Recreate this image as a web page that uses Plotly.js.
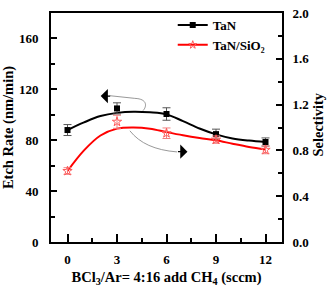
<!DOCTYPE html>
<html>
<head>
<meta charset="utf-8">
<script src="https://cdn.plot.ly/plotly-3.0.1.min.js"></script>
<style>
  html, body { margin: 0; padding: 0; background: #fff; }
  #chart { width: 336px; height: 290px; }
</style>
</head>
<body>
<div id="chart"></div>
<script>
// CH4 flow added to BCl3/Ar = 4:16 (sccm)
const ch4Flow = [0, 3, 6, 9, 12];

// Measured TaN etch rate (nm/min) and its error
const tanRate = [88, 105, 100.6, 84.8, 78.6];
const tanRateErr = [4.3, 4.4, 4.9, 3.9, 3.2];

// Measured TaN/SiO2 selectivity and its error
const selectivity = [0.62, 1.05, 0.95, 0.894, 0.805];
const selectivityErr = [0.029, 0.057, 0.046, 0.032, 0.034];

// Smooth fitted trends
const fitFlow = [0, 1, 2, 3, 4, 5, 6, 7, 8, 9, 10, 11, 12];
const tanRateFit = [88, 94, 99, 101.5, 102.4, 101.9, 100.3, 95, 89.2, 84.6, 81.4, 79.7, 78.6];
const selectivityFit = [0.62, 0.80, 0.93, 0.99, 1.0, 0.99, 0.96, 0.932, 0.908, 0.888, 0.858, 0.83, 0.808];

const xTicks = [0, 3, 6, 9, 12];
const yTicks = [0, 40, 80, 120, 160];
const y2Ticks = [0, 0.4, 0.8, 1.2, 1.6, 2.0];

const serif = 'Liberation Serif, Times New Roman, serif';
const tickFont = { family: serif, size: 13, color: '#000', weight: 'bold' };
const titleFont = { family: serif, size: 14.5, color: '#000', weight: 'bold' };
const legendFont = { family: serif, size: 13, color: '#000', weight: 'bold' };

const traces = [
  {
    x: fitFlow, y: tanRateFit, mode: 'lines', yaxis: 'y',
    line: { color: '#000', width: 2, shape: 'spline', smoothing: 1 },
    showlegend: false, hoverinfo: 'skip'
  },
  {
    x: fitFlow, y: selectivityFit, mode: 'lines', yaxis: 'y2',
    line: { color: '#ff0000', width: 2, shape: 'spline', smoothing: 1 },
    showlegend: false, hoverinfo: 'skip'
  },
  {
    x: ch4Flow, y: tanRate, mode: 'markers', yaxis: 'y',
    marker: { symbol: 'square', size: 6, color: '#000' },
    error_y: { type: 'data', array: tanRateErr, visible: true, color: '#555', thickness: 1, width: 4 },
    showlegend: false
  },
  {
    x: ch4Flow, y: selectivity, mode: 'markers', yaxis: 'y2',
    marker: { symbol: 'star-open', size: 7, color: '#ff5a5a', line: { width: 1, color: '#ff5a5a' } },
    error_y: { type: 'data', array: selectivityErr, visible: true, color: '#f08080', thickness: 1, width: 4 },
    showlegend: false
  },
  // legend keys
  {
    x: [null], y: [null], mode: 'lines+markers', name: 'TaN', yaxis: 'y',
    line: { color: '#000', width: 2 },
    marker: { symbol: 'square', size: 6, color: '#000' }
  },
  {
    x: [null], y: [null], mode: 'lines+markers', name: 'TaN/SiO\u2082', yaxis: 'y2',
    line: { color: '#ff0000', width: 2 },
    marker: { symbol: 'star-open', size: 6, color: '#ff5a5a' }
  }
];

const layout = {
  width: 336, height: 290,
  margin: { l: 51, r: 54, t: 10, b: 48 },
  paper_bgcolor: '#fff', plot_bgcolor: '#fff',
  showlegend: true,
  legend: {
    x: 0.527, xanchor: 'left', y: 1.013, yanchor: 'top',
    bgcolor: 'rgba(0,0,0,0)', font: legendFont,
    tracegroupgap: 0, itemwidth: 30
  },
  xaxis: {
    range: [-1, 13], tickvals: xTicks, ticktext: xTicks.map(String),
    ticks: 'inside', ticklen: 8, tickwidth: 2, tickcolor: '#000',
    minor: { dtick: 1.5, tick0: 0, ticks: 'inside', ticklen: 4, tickwidth: 2, tickcolor: '#000' },
    showline: true, linewidth: 2, linecolor: '#000', mirror: true,
    showgrid: false, zeroline: false,
    tickfont: tickFont, ticklabelstandoff: 4,
    title: { text: 'BCl<sub>3</sub>/Ar= 4:16 add CH<sub>4</sub> (sccm)', font: titleFont, standoff: 6 }
  },
  yaxis: {
    range: [0, 180], tickvals: yTicks, ticktext: yTicks.map(String),
    ticks: 'inside', ticklen: 6, tickwidth: 2, tickcolor: '#000',
    minor: { dtick: 20, tick0: 0, ticks: 'inside', ticklen: 4, tickwidth: 2, tickcolor: '#000' },
    showline: true, linewidth: 2, linecolor: '#000',
    showgrid: false, zeroline: false,
    tickfont: tickFont, ticklabelstandoff: 8,
    title: { text: 'Etch Rate (nm/min)', font: titleFont, standoff: 2 }
  },
  yaxis2: {
    overlaying: 'y', side: 'right',
    range: [0, 2], tickvals: y2Ticks, ticktext: y2Ticks.map(v => v.toFixed(1)),
    ticks: 'inside', ticklen: 6, tickwidth: 2, tickcolor: '#000',
    minor: { dtick: 0.2, tick0: 0, ticks: 'inside', ticklen: 4, tickwidth: 2, tickcolor: '#000' },
    showline: true, linewidth: 2, linecolor: '#000',
    showgrid: false, zeroline: false,
    tickfont: tickFont, ticklabelstandoff: 6
  },
  shapes: [
    // loop pointing from the etch-rate curve to the left axis
    {
      type: 'path', xref: 'x', yref: 'y',
      path: 'M 4.57 103.2 C 4.81 106.3, 4.87 112.5, 4.08 112.9 L 2.56 115.0',
      line: { color: '#999', width: 1 }
    },
    // sweep pointing from the selectivity curve to the right axis
    {
      type: 'path', xref: 'x', yref: 'y',
      path: 'M 3.78 87.4 C 4.38 77.6, 5.30 72.2, 6.64 70.8',
      line: { color: '#999', width: 1 }
    }
  ],
  annotations: [
    {
      x: 2.01, y: 114.7, xref: 'x', yref: 'y', text: '',
      showarrow: true, ax: 11, ay: 0, arrowhead: 1, arrowsize: 2, arrowwidth: 1.2,
      arrowcolor: '#000', standoff: 0
    },
    {
      x: 7.27, y: 71.0, xref: 'x', yref: 'y', text: '',
      showarrow: true, ax: -11, ay: 0, arrowhead: 1, arrowsize: 2, arrowwidth: 1.2,
      arrowcolor: '#000', standoff: 0
    },
    {
      x: 328, y: 123, xref: 'paper', yref: 'paper', text: 'Selectivity',
      showarrow: false, textangle: -90, font: titleFont
    }
  ]
};

// position the right-hand title in pixel terms
(function () {
  const ann = layout.annotations[2];
  const plotW = layout.width - layout.margin.l - layout.margin.r;
  const plotH = layout.height - layout.margin.t - layout.margin.b;
  ann.x = (ann.x - layout.margin.l) / plotW;
  ann.y = (layout.height - layout.margin.b - ann.y) / plotH;
})();

Plotly.newPlot('chart', traces, layout, { staticPlot: true, displayModeBar: false });
</script>
</body>
</html>
